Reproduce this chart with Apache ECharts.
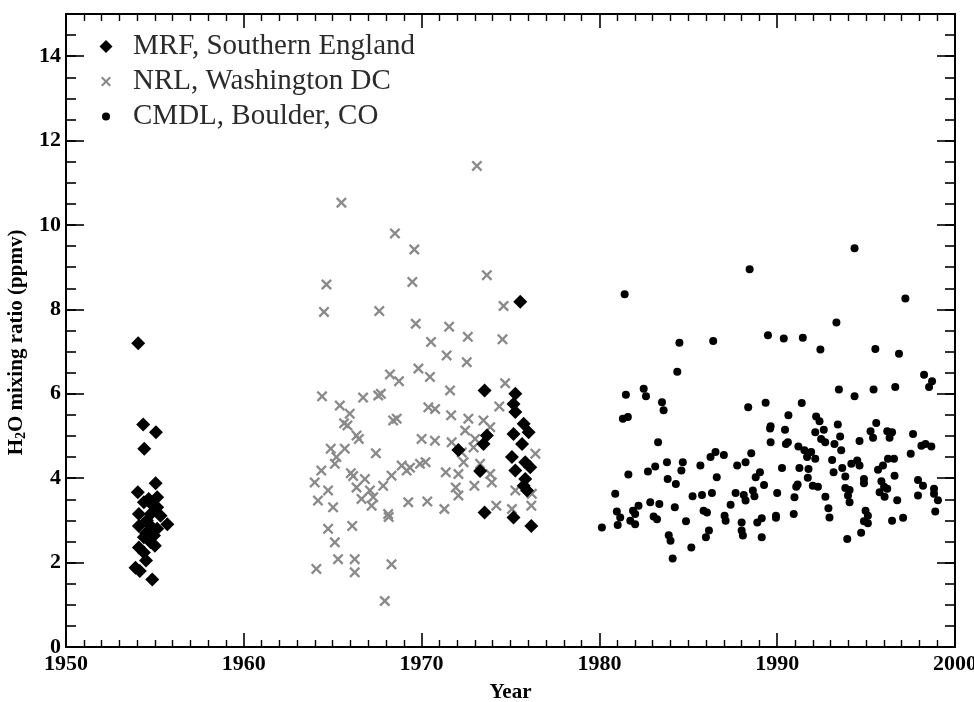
<!DOCTYPE html>
<html>
<head>
<meta charset="utf-8">
<script src="https://cdn.jsdelivr.net/npm/echarts@6/dist/echarts.min.js"></script>
<style>
html,body{margin:0;padding:0;background:#fff;}
#chart{width:974px;height:702px;}
</style>
</head>
<body>
<div id="chart"></div>
<script>
// ---- data: [year, H2O mixing ratio (ppmv)] ----
const seriesNames = ['MRF, Southern England', 'NRL, Washington DC', 'CMDL, Boulder, CO'];
const xTicks = [1950, 1960, 1970, 1980, 1990, 2000];
const yTicks = [0, 2, 4, 6, 8, 10, 12, 14];

const mrfData = [
  [1954.06,7.2],[1954.34,5.27],[1955.06,5.09],[1954.4,4.7],[1955.04,3.88],[1954.04,3.67],
  [1954.65,3.51],[1955.13,3.55],[1954.38,3.43],[1955.13,3.31],[1954.1,3.15],[1954.76,3.15],
  [1955.32,3.11],[1955.7,2.91],[1954.1,2.87],[1954.76,2.87],[1955.13,2.80],[1954.38,2.6],
  [1954.95,2.64],[1954.1,2.36],[1954.76,2.48],[1954.38,2.24],[1954.5,2.05],[1953.91,1.88],
  [1954.15,1.8],[1954.85,1.6],[1954.55,3.0],[1954.5,2.7],[1955.0,2.4],[1954.9,3.35],
  [1975.55,8.18],[1973.54,6.08],[1975.27,6.0],[1975.17,5.76],[1975.27,5.57],[1975.74,5.29],
  [1975.17,5.05],[1976.02,5.09],[1975.65,4.81],[1973.67,5.01],[1973.48,4.81],[1972.07,4.67],
  [1975.08,4.50],[1975.83,4.38],[1976.11,4.26],[1975.27,4.18],[1973.29,4.17],[1975.83,3.98],
  [1975.93,3.71],[1975.74,3.82],[1973.54,3.19],[1975.17,3.07],[1976.17,2.87]
];

const nrlData = [
  [1965.49,10.53],[1968.5,9.80],[1969.59,9.42],[1964.65,8.59],[1969.48,8.65],[1964.51,7.94],
  [1967.62,7.96],[1969.67,7.66],[1970.53,7.23],[1969.82,6.60],[1970.47,6.40],[1968.22,6.46],
  [1968.73,6.30],[1964.4,5.94],[1965.4,5.72],[1965.96,5.53],[1966.71,5.91],[1967.71,6.0],
  [1967.56,5.96],[1965.64,5.30],[1965.83,5.25],[1968.4,5.37],[1968.6,5.41],[1970.38,5.68],
  [1966.34,5.01],[1966.47,4.93],[1970.0,4.93],[1970.75,4.89],[1964.89,4.70],[1965.68,4.70],
  [1965.21,4.50],[1965.12,4.34],[1967.43,4.59],[1964.36,4.18],[1963.99,3.90],[1964.74,3.71],
  [1964.17,3.47],[1965.02,3.31],[1966.02,4.12],[1966.15,4.05],[1966.81,3.98],[1966.34,3.78],
  [1967.09,3.71],[1966.62,3.51],[1967.28,3.55],[1967.19,3.35],[1967.84,3.82],[1968.31,4.06],
  [1968.88,4.30],[1969.16,4.18],[1969.35,4.25],[1969.91,4.34],[1970.22,4.38],[1969.25,3.43],
  [1970.32,3.45],[1968.12,3.15],[1968.15,3.08],[1964.74,2.80],[1966.1,2.87],[1965.12,2.48],
  [1965.3,2.08],[1966.24,2.08],[1966.24,1.77],[1964.08,1.85],[1968.31,1.96],[1967.93,1.09],
  [1973.11,11.40],[1973.67,8.81],[1974.61,8.08],[1971.55,7.59],[1972.6,7.35],[1974.55,7.29],
  [1971.41,6.91],[1972.54,6.75],[1971.6,6.08],[1974.7,6.25],[1970.76,5.64],[1971.66,5.49],
  [1974.37,5.70],[1972.63,5.41],[1973.48,5.37],[1972.45,5.13],[1973.86,5.21],[1971.69,4.85],
  [1973.01,4.93],[1972.92,4.73],[1972.26,4.61],[1972.36,4.38],[1973.29,4.34],[1971.36,4.14],
  [1972.07,4.10],[1973.86,4.10],[1973.95,3.90],[1971.92,3.78],[1972.07,3.59],[1972.97,3.82],
  [1975.27,3.71],[1976.4,4.58],[1971.28,3.27],[1974.2,3.35],[1975.08,3.27],[1976.17,3.35],
  [1976.2,3.63]
];

const cmdlData = [
  [1988.45,8.95],[1981.42,8.36],[1984.5,7.21],[1986.4,7.25],[1989.48,7.39],[1984.38,6.52],
  [1981.49,5.98],[1982.49,6.12],[1982.62,5.94],[1983.52,5.80],[1983.61,5.61],[1981.32,5.41],
  [1981.6,5.45],[1988.37,5.68],[1989.35,5.79],[1989.63,5.23],[1989.6,5.18],[1989.63,4.85],
  [1983.3,4.85],[1981.63,4.09],[1982.73,4.16],[1983.14,4.28],[1983.8,4.38],[1984.69,4.38],
  [1984.61,4.18],[1983.84,3.98],[1984.3,3.86],[1985.68,4.30],[1986.25,4.50],[1986.53,4.62],
  [1987.0,4.55],[1986.6,4.02],[1987.75,4.30],[1988.22,4.38],[1988.54,4.59],[1988.79,4.02],
  [1989.03,4.14],[1989.26,3.84],[1980.89,3.63],[1980.98,3.21],[1981.17,3.07],[1981.03,2.89],
  [1980.14,2.83],[1981.89,3.23],[1982.2,3.35],[1982.01,3.15],[1981.74,2.99],[1982.01,2.91],
  [1982.86,3.43],[1983.37,3.39],[1983.05,3.09],[1983.24,3.03],[1984.24,3.31],[1983.9,2.65],
  [1984.0,2.52],[1984.12,2.10],[1984.87,2.98],[1985.17,2.36],[1985.24,3.57],[1985.77,3.60],
  [1986.33,3.65],[1985.86,3.23],[1986.05,3.19],[1986.16,2.76],[1985.99,2.60],[1987.04,3.11],
  [1987.1,2.99],[1987.38,3.37],[1987.66,3.65],[1988.12,3.60],[1988.22,3.47],[1988.63,3.71],
  [1988.72,3.57],[1988.0,2.95],[1988.0,2.76],[1988.07,2.64],[1988.88,2.95],[1989.13,3.05],
  [1989.13,2.60],[1990.0,3.65],
  [1994.35,9.45],[1997.21,8.26],[1993.33,7.69],[1990.37,7.31],[1991.44,7.33],[1992.43,7.05],
  [1995.52,7.06],[1996.85,6.95],[1998.26,6.45],[1998.71,6.30],[1998.54,6.16],[1993.47,6.10],
  [1994.35,5.94],[1995.42,6.10],[1996.64,6.16],[1991.38,5.78],[1990.63,5.49],[1992.19,5.46],
  [1992.38,5.35],[1990.44,5.15],[1992.14,5.09],[1992.62,5.15],[1992.47,4.93],[1992.7,4.85],
  [1993.41,5.27],[1993.54,4.99],[1993.22,4.81],[1993.6,4.66],[1995.57,5.31],[1995.25,5.11],
  [1995.39,4.96],[1994.63,4.88],[1996.19,5.11],[1996.46,5.09],[1996.32,4.96],[1997.64,5.05],
  [1990.49,4.81],[1990.6,4.85],[1991.19,4.75],[1991.53,4.66],[1991.91,4.62],[1991.68,4.50],
  [1992.14,4.46],[1993.09,4.43],[1997.51,4.58],[1998.11,4.77],[1998.34,4.81],[1998.67,4.75],
  [1994.17,4.34],[1994.5,4.42],[1994.63,4.30],[1995.67,4.20],[1995.95,4.30],[1996.23,4.46],
  [1996.57,4.46],[1990.27,4.24],[1991.25,4.24],[1991.76,4.22],[1991.72,4.01],[1993.17,4.14],
  [1993.66,4.24],[1993.83,4.04],[1996.6,4.06],[1997.92,3.96],[1998.2,3.82],[1994.88,3.98],
  [1994.88,3.88],[1995.86,3.93],[1996.01,3.80],[1996.19,3.75],[1995.76,3.67],[1996.04,3.56],
  [1991.15,3.85],[1991.07,3.80],[1992.0,3.82],[1992.29,3.80],[1993.83,3.77],[1994.07,3.72],
  [1993.98,3.59],[1994.07,3.43],[1990.97,3.55],[1992.71,3.56],[1992.88,3.29],[1992.94,3.07],
  [1997.92,3.59],[1998.82,3.75],[1998.82,3.63],[1999.04,3.48],[1998.89,3.21],[1996.75,3.48],
  [1989.93,3.11],[1989.93,3.06],[1990.93,3.15],[1994.97,3.23],[1995.1,3.11],[1994.88,2.98],
  [1995.1,2.93],[1996.46,2.99],[1997.08,3.06],[1993.94,2.56],[1994.72,2.71]
];

// ---- chart ----
const SERIF = "'Liberation Serif', 'DejaVu Serif', serif";
const DIAMOND = 'path://M5,0 L10,5 L5,10 L0,5 Z';
const XMARK = 'path://M0,1.5 L1.5,0 L5,3.5 L8.5,0 L10,1.5 L6.5,5 L10,8.5 L8.5,10 L5,6.5 L1.5,10 L0,8.5 L3.5,5 Z';

const chart = echarts.init(document.getElementById('chart'), null, {renderer: 'canvas'});

const labelStyle = {fontFamily: SERIF, fontWeight: 'bold', fontSize: 22, color: '#000'};
function xAxisDef(pos, showLabels) {
  return {
    type: 'value', position: pos, min: xTicks[0], max: xTicks[xTicks.length - 1], interval: 10,
    axisLine: {show: true, onZero: false, lineStyle: {color: '#000', width: 2}},
    axisTick: {show: true, inside: true, length: 14, lineStyle: {color: '#000', width: 1.6}},
    minorTick: {show: true, splitNumber: 10, length: 7, lineStyle: {color: '#000', width: 1.4}},
    axisLabel: showLabels ? Object.assign({margin: 6, formatter: v => String(v)}, labelStyle) : {show: false},
    splitLine: {show: false}, minorSplitLine: {show: false},
    name: showLabels ? 'Year' : '', nameLocation: 'middle', nameGap: 35,
    nameTextStyle: {fontFamily: SERIF, fontWeight: 'bold', fontSize: 21, color: '#000'}
  };
}
function yAxisDef(pos, major, showLabels) {
  return {
    type: 'value', position: pos, min: 0, max: 15, interval: major ? 2 : 0.5,
    axisLine: {show: major, onZero: false, lineStyle: {color: '#000', width: 2}},
    axisTick: {show: true, inside: true, length: major ? 18 : 10, lineStyle: {color: '#000', width: 1.6}},
    axisLabel: showLabels ? Object.assign({margin: 5, formatter: v => (yTicks.indexOf(v) >= 0 ? String(v) : '')}, labelStyle) : {show: false},
    splitLine: {show: false},
    name: showLabels ? 'H{sub|2}O mixing ratio (ppmv)' : '', nameLocation: 'middle', nameGap: 32, nameRotate: 90,
    nameTextStyle: {fontFamily: SERIF, fontWeight: 'bold', fontSize: 21, color: '#000', padding: [0, 24, 0, 0],
      rich: {sub: {fontFamily: SERIF, fontWeight: 'bold', fontSize: 14, color: '#000', padding: [10, 0, 0, 0]}}}
  };
}

function legendDef(name, icon, h, left, textPad, top) {
  return {
    data: [{name: name, icon: icon}], orient: 'vertical', left: left, top: top, padding: 0,
    itemWidth: h, itemHeight: h, itemGap: 0, selectedMode: false,
    textStyle: {fontFamily: SERIF, fontSize: 29, color: '#2b2b2b', padding: [0, 0, 0, textPad]}
  };
}

const option = {
  backgroundColor: '#fff',
  animation: false,
  grid: {left: 66, right: 19, top: 14, bottom: 55, containLabel: false, outerBoundsMode: 'none'},
  legend: [
    legendDef(seriesNames[0], DIAMOND, 13, 99.5, 15.5, 32),
    legendDef(seriesNames[1], XMARK, 10, 101, 17, 67),
    legendDef(seriesNames[2], 'circle', 8, 102, 18, 102)
  ],
  xAxis: [xAxisDef('bottom', true), xAxisDef('top', false)],
  yAxis: [yAxisDef('left', true, true), yAxisDef('left', false, false), yAxisDef('right', true, false), yAxisDef('right', false, false)],
  series: [
    {name: seriesNames[1], type: 'scatter', data: nrlData, symbol: XMARK, symbolSize: 11,
     itemStyle: {color: '#8a8a8a', opacity: 1}, z: 2},
    {name: seriesNames[0], type: 'scatter', data: mrfData, symbol: DIAMOND, symbolSize: 14,
     itemStyle: {color: '#000', opacity: 1}, z: 3},
    {name: seriesNames[2], type: 'scatter', data: cmdlData, symbol: 'circle', symbolSize: 8,
     itemStyle: {color: '#000', opacity: 1}, z: 3}
  ]
};
chart.setOption(option);
</script>
</body>
</html>
